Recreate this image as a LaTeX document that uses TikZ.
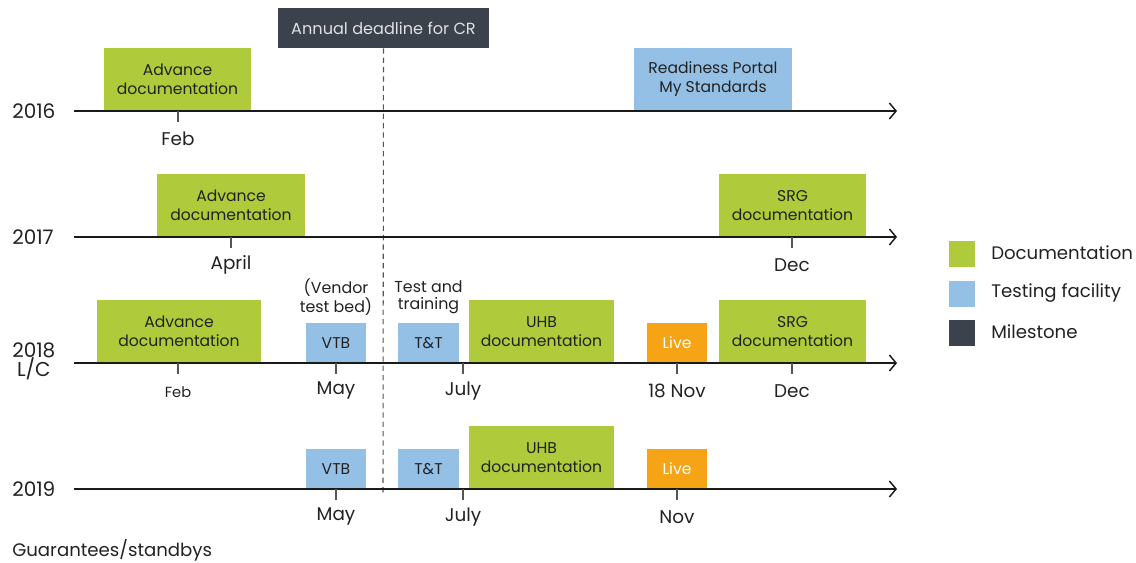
\documentclass[tikz,border=0pt]{standalone}
\usepackage{fontspec}
\setmainfont{Poppins}
\usetikzlibrary{arrows.meta}
\definecolor{docgreen}{HTML}{AFCA3A}
\definecolor{testblue}{HTML}{95C0E6}
\definecolor{milec}{HTML}{3B424C}
\definecolor{liveorange}{HTML}{F5A415}
\definecolor{axisc}{HTML}{1A1A1A}
\definecolor{tickc}{HTML}{555555}
\definecolor{txt}{HTML}{222222}
\begin{document}
\begin{tikzpicture}[x=0.75pt,y=-0.75pt,
  box/.style={inner sep=0pt, align=center, text=txt, font=\fontsize{11.7}{14.2}\selectfont},
  docbox/.style={box, fill=docgreen},
  testbox/.style={box, fill=testblue},
  livebox/.style={box, fill=liveorange, text=white},
  milebox/.style={box, fill=milec, text=white!88!black, font=\fontsize{12.1}{14.2}\selectfont},
  axisline/.style={draw=axisc, line width=1.1pt, -{Straight Barb[length=5pt,width=12pt,line width=1.1pt]}},
  tickline/.style={draw=tickc, line width=0.8pt},
  month/.style={inner sep=0pt, text=txt, font=\fontsize{13.8}{15}\selectfont},
  smallmonth/.style={inner sep=0pt, text=txt, font=\fontsize{11}{12}\selectfont},
  note/.style={inner sep=0pt, align=center, text=txt, font=\fontsize{11.9}{12.8}\selectfont},
  yearlbl/.style={inner sep=0pt, anchor=west, align=center, text=txt, font=\fontsize{15}{14.5}\selectfont},
  legsq/.style={inner sep=0pt, minimum width=19.5pt, minimum height=19.5pt},
  legtxt/.style={inner sep=0pt, anchor=west, text=txt, font=\fontsize{13.6}{15}\selectfont},
  deadline/.style={draw=tickc, line width=0.8pt, dash pattern=on 4pt off 3pt}
]
\useasboundingbox (0,0) rectangle (1136,563);

% axes coordinates
\coordinate (a16s) at (74,111); \coordinate (a16e) at (897,111);
\coordinate (a17s) at (74,237); \coordinate (a17e) at (897,237);
\coordinate (a18s) at (74,363); \coordinate (a18e) at (897,363);
\coordinate (a19s) at (74,489); \coordinate (a19e) at (897,489);

% milestone
\node[milebox, minimum width=211*0.75pt, minimum height=40*0.75pt] (mile) at (383.5,28) {Annual deadline for CR};
\coordinate (dashend) at (383,493);

% 2016
\node[docbox, minimum width=147*0.75pt, minimum height=63*0.75pt] (adv16) at (177.5,79.5) {Advance\\documentation};
\node[testbox, minimum width=158*0.75pt, minimum height=63*0.75pt] (rp16) at (713,79.5) {Readiness Portal\\My Standards};

% 2017
\node[docbox, minimum width=148*0.75pt, minimum height=63*0.75pt] (adv17) at (231,205.5) {Advance\\documentation};
\node[docbox, minimum width=147*0.75pt, minimum height=63*0.75pt] (srg17) at (792.5,205.5) {SRG\\documentation};

% 2018
\node[docbox, minimum width=164*0.75pt, minimum height=63*0.75pt] (adv18) at (179,331.5) {Advance\\documentation};
\node[testbox, minimum width=60*0.75pt, minimum height=40*0.75pt] (vtb18) at (336,343) {VTB};
\node[testbox, minimum width=61*0.75pt, minimum height=40*0.75pt] (tt18) at (428.5,343) {T\&T};
\node[docbox, minimum width=145*0.75pt, minimum height=63*0.75pt] (uhb18) at (541.5,331.5) {UHB\\documentation};
\node[livebox, minimum width=60*0.75pt, minimum height=40*0.75pt] (live18) at (677,343) {Live};
\node[docbox, minimum width=147*0.75pt, minimum height=63*0.75pt] (srg18) at (792.5,331.5) {SRG\\documentation};
\node[note] (vtbnote) at (336,297.5) {(Vendor\\test bed)};
\node[note] (ttnote) at (428.5,297.5) {Test and\\training};

% 2019
\node[testbox, minimum width=60*0.75pt, minimum height=40*0.75pt] (vtb19) at (336,469) {VTB};
\node[testbox, minimum width=61*0.75pt, minimum height=40*0.75pt] (tt19) at (428.5,469) {T\&T};
\node[docbox, minimum width=145*0.75pt, minimum height=63*0.75pt] (uhb19) at (541.5,457.5) {UHB\\documentation};
\node[livebox, minimum width=60*0.75pt, minimum height=40*0.75pt] (live19) at (677,469) {Live};

% deadline dashed line
\draw[deadline] (mile.south) -- (dashend);

% axes
\draw[axisline] (a16s) -- (a16e);
\draw[axisline] (a17s) -- (a17e);
\draw[axisline] (a18s) -- (a18e);
\draw[axisline] (a19s) -- (a19e);

% ticks
\foreach \x/\y in {178/111, 231/237, 792/237, 178/363, 336/363, 463/363, 677/363, 792/363, 336/489, 463/489, 677/489}
  \draw[tickline] (\x,\y) -- (\x,\y+11);

% month labels
\node[month] (m16feb) at (178,139) {Feb};
\node[month] (m17apr) at (231,265) {April};
\node[month] (m17dec) at (792,265) {Dec};
\node[smallmonth] (m18feb) at (178,392) {Feb};
\node[month] (m18may) at (336,391) {May};
\node[month] (m18jul) at (463,391) {July};
\node[month] (m18nov) at (677,391) {18 Nov};
\node[month] (m18dec) at (792,391) {Dec};
\node[month] (m19may) at (336,517) {May};
\node[month] (m19jul) at (463,517) {July};
\node[month] (m19nov) at (677,517) {Nov};

% year labels
\node[yearlbl] (y16) at (12,111) {2016};
\node[yearlbl] (y17) at (12,237) {2017};
\node[yearlbl] (y18) at (12,361.5) {2018\\L/C};
\node[yearlbl] (y19) at (12,489) {2019};

\node[legtxt] (guar) at (12,550) {Guarantees/standbys};

% legend
\node[legsq, fill=docgreen] (lg1) at (962,254.5) {};
\node[legsq, fill=testblue] (lg2) at (962,294) {};
\node[legsq, fill=milec] (lg3) at (962,333) {};
\node[legtxt] (lt1) at (991,253) {Documentation};
\node[legtxt] (lt2) at (991,293) {Testing facility};
\node[legtxt] (lt3) at (991,332) {Milestone};
\end{tikzpicture}
\end{document}
